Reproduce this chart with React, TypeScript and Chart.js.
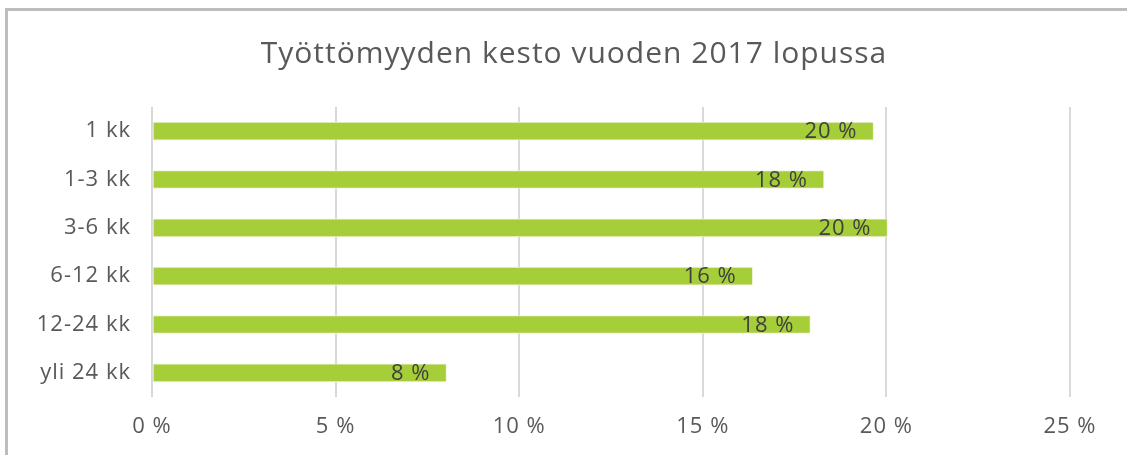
import React, { useEffect, useRef } from "react";
import { Chart, registerables } from "chart.js";

Chart.register(...registerables);

const TITLE = "Työttömyyden kesto vuoden 2017 lopussa";
const categories = ["1 kk", "1-3 kk", "3-6 kk", "6-12 kk", "12-24 kk", "yli 24 kk"];
const values = [19.65, 18.3, 20.03, 16.36, 17.93, 8.02];
const valueLabels = ["20 %", "18 %", "20 %", "16 %", "18 %", "8 %"];
const xTicks = [0, 5, 10, 15, 20, 25];

const FONT = "'Open Sans'";
const SPACING = "1px";

const spacingPlugin = {
  id: "spacing",
  beforeLayout(chart: any) {
    chart.ctx.letterSpacing = SPACING;
  },
  beforeDraw(chart: any) {
    chart.ctx.letterSpacing = SPACING;
  },
};

const titlePlugin = {
  id: "customTitle",
  afterDraw(chart: any) {
    const ctx = chart.ctx;
    ctx.save();
    ctx.letterSpacing = SPACING;
    ctx.font = `30px ${FONT}`;
    ctx.fillStyle = "#595959";
    ctx.textAlign = "center";
    ctx.textBaseline = "middle";
    ctx.fillText(TITLE, 574, 54);
    ctx.restore();
  },
};

const dataLabelPlugin = {
  id: "dataLabels",
  afterDatasetsDraw(chart: any) {
    const ctx = chart.ctx;
    const meta = chart.getDatasetMeta(0);
    ctx.save();
    ctx.letterSpacing = SPACING;
    ctx.font = `22px ${FONT}`;
    ctx.fillStyle = "#404040";
    ctx.textAlign = "right";
    ctx.textBaseline = "middle";
    meta.data.forEach((bar: any, i: number) => {
      ctx.fillText(valueLabels[i], bar.x - 16, bar.y + 1);
    });
    ctx.restore();
  },
};

export default function App() {
  const ref = useRef<HTMLCanvasElement>(null);
  useEffect(() => {
    document.body.style.margin = "0";
    const chart = new Chart(ref.current!, {
      type: "bar",
      data: {
        labels: categories,
        datasets: [
          {
            data: values,
            backgroundColor: "#a5ce39",
            borderColor: "#eef5dc",
            borderWidth: 1,
            borderSkipped: false,
            barThickness: 18,
          },
        ],
      },
      options: {
        indexAxis: "y",
        animation: false,
        responsive: false,
        maintainAspectRatio: false,
        layout: { padding: { left: 0, right: 57, top: 107, bottom: 0 } },
        plugins: {
          legend: { display: false },
          tooltip: { enabled: false },
          title: { display: false },
        },
        scales: {
          x: {
            min: 0,
            max: 25,
            afterBuildTicks(scale: any) {
              scale.ticks = xTicks.map((v) => ({ value: v }));
            },
            afterFit(scale: any) {
              scale.height = 58;
            },
            ticks: {
              color: "#595959",
              font: { family: FONT, size: 22 },
              padding: 17,
              callback: (v: any) => `${v} %`,
            },
            grid: { color: "#d9d9d9", lineWidth: 2, drawTicks: false },
            border: { display: false },
          },
          y: {
            afterFit(scale: any) {
              scale.width = 152;
            },
            ticks: {
              color: "#595959",
              font: { family: FONT, size: 22 },
              padding: 21,
            },
            grid: { display: false, drawTicks: false },
            border: { display: false },
          },
        },
      },
      plugins: [spacingPlugin, titlePlugin, dataLabelPlugin],
    });
    return () => chart.destroy();
  }, []);
  return (
    <div style={{ position: "fixed", left: 0, top: 0, width: 1127, height: 455, background: "#fff", overflow: "hidden" }}>
      <canvas ref={ref} width={1127} height={455} style={{ position: "absolute", left: 0, top: 0 }} />
      <div
        style={{
          position: "absolute",
          left: 5,
          top: 8,
          width: 1130,
          height: 460,
          borderLeft: "3px solid #bdbdbd",
          borderTop: "3px solid #bdbdbd",
          pointerEvents: "none",
        }}
      />
    </div>
  );
}
